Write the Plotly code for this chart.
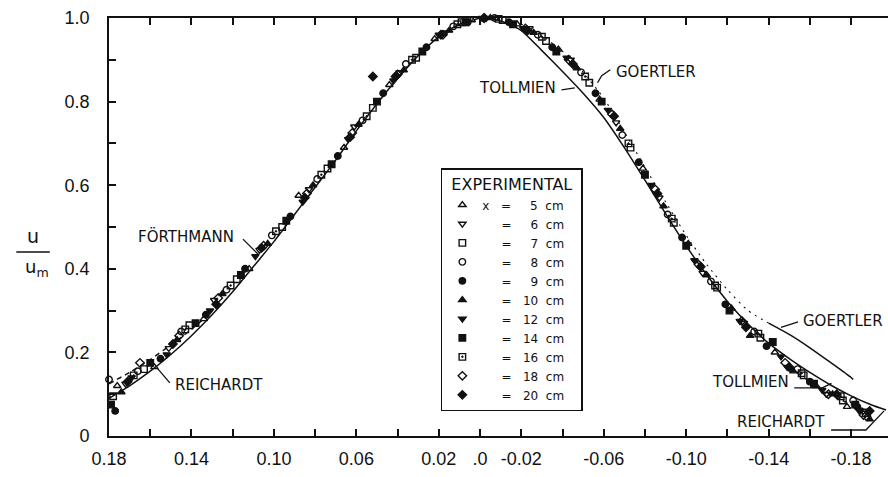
import plotly.graph_objects as go

# ---- measured velocity ratios u/um against y/x, one list pair per station ----
x5 = [0.176, 0.158, 0.134, 0.112, 0.088, 0.066, 0.044, 0.022, 0.004, -0.018, -0.038, -0.058, -0.079, -0.101, -0.122, -0.143, -0.163, -0.178]
u5 = [0.12, 0.165, 0.28, 0.40, 0.575, 0.69, 0.84, 0.95, 0.995, 0.985, 0.925, 0.805, 0.64, 0.46, 0.305, 0.20, 0.12, 0.07]
x6 = [0.172, 0.151, 0.129, 0.107, 0.083, 0.061, 0.039, 0.017, -0.003, -0.024, -0.044, -0.066, -0.087, -0.108, -0.128, -0.149, -0.168, -0.186]
u6 = [0.125, 0.21, 0.325, 0.445, 0.59, 0.74, 0.87, 0.965, 1.0, 0.975, 0.90, 0.75, 0.57, 0.39, 0.27, 0.165, 0.10, 0.06]
x7 = [0.178, 0.163, 0.141, 0.118, 0.096, 0.074, 0.052, 0.031, 0.009, -0.011, -0.032, -0.053, -0.073, -0.094, -0.115, -0.136, -0.157, -0.176]
u7 = [0.095, 0.16, 0.265, 0.375, 0.50, 0.64, 0.785, 0.905, 0.99, 0.995, 0.945, 0.845, 0.69, 0.51, 0.355, 0.235, 0.145, 0.085]
x8 = [0.180, 0.166, 0.145, 0.123, 0.101, 0.079, 0.057, 0.036, 0.013, -0.007, -0.028, -0.049, -0.069, -0.091, -0.112, -0.133, -0.154, -0.181, -0.188]
u8 = [0.135, 0.155, 0.25, 0.35, 0.48, 0.615, 0.755, 0.89, 0.98, 1.0, 0.96, 0.87, 0.72, 0.53, 0.37, 0.25, 0.16, 0.085, 0.045]
x9 = [0.177, 0.155, 0.133, 0.114, 0.092, 0.069, 0.047, 0.026, 0.006, -0.014, -0.035, -0.056, -0.077, -0.098, -0.119, -0.139, -0.160, -0.183]
u9 = [0.06, 0.185, 0.29, 0.40, 0.525, 0.67, 0.82, 0.93, 0.99, 0.99, 0.93, 0.82, 0.655, 0.475, 0.315, 0.215, 0.13, 0.07]
x10 = [0.174, 0.147, 0.125, 0.103, 0.081, 0.059, 0.037, 0.015, -0.005, -0.026, -0.047, -0.068, -0.089, -0.110, -0.131, -0.152, -0.171, -0.189]
u10 = [0.105, 0.23, 0.34, 0.46, 0.60, 0.745, 0.875, 0.97, 1.0, 0.965, 0.88, 0.735, 0.55, 0.385, 0.24, 0.155, 0.10, 0.04]
x12 = [0.169, 0.152, 0.131, 0.109, 0.086, 0.064, 0.042, 0.020, -0.001, -0.021, -0.042, -0.062, -0.083, -0.104, -0.126, -0.146, -0.166, -0.184]
u12 = [0.14, 0.195, 0.30, 0.43, 0.56, 0.71, 0.85, 0.96, 1.0, 0.975, 0.905, 0.78, 0.60, 0.42, 0.275, 0.19, 0.11, 0.06]
x14 = [0.179, 0.160, 0.138, 0.116, 0.094, 0.072, 0.050, 0.028, 0.007, -0.016, -0.037, -0.059, -0.080, -0.100, -0.121, -0.142, -0.162, -0.182]
u14 = [0.075, 0.175, 0.27, 0.385, 0.515, 0.65, 0.80, 0.92, 0.99, 0.985, 0.92, 0.80, 0.625, 0.455, 0.30, 0.225, 0.125, 0.075]
x16 = [0.168, 0.143, 0.121, 0.099, 0.077, 0.055, 0.033, 0.011, -0.009, -0.030, -0.051, -0.072, -0.093, -0.114, -0.135, -0.156, -0.175, -0.187]
u16 = [0.145, 0.255, 0.36, 0.49, 0.625, 0.765, 0.90, 0.985, 0.998, 0.955, 0.86, 0.70, 0.52, 0.36, 0.245, 0.15, 0.095, 0.055]
x18 = [0.165, 0.146, 0.127, 0.105, 0.084, 0.062, 0.040, 0.018, -0.002, -0.022, -0.043, -0.064, -0.085, -0.106, -0.127, -0.148, -0.169, -0.186]
u18 = [0.175, 0.24, 0.33, 0.455, 0.58, 0.725, 0.865, 0.96, 1.0, 0.975, 0.90, 0.77, 0.59, 0.41, 0.275, 0.175, 0.10, 0.05]
x20 = [0.171, 0.149, 0.128, 0.106, 0.085, 0.063, 0.052, 0.041, 0.019, -0.002, -0.023, -0.045, -0.065, -0.086, -0.107, -0.129, -0.150, -0.173, -0.189]
u20 = [0.13, 0.22, 0.315, 0.45, 0.57, 0.715, 0.86, 0.86, 0.96, 1.0, 0.97, 0.89, 0.765, 0.58, 0.405, 0.26, 0.165, 0.10, 0.06]

stations = ["5", "6", "7", "8", "9", "10", "12", "14", "16", "18", "20"]
series_x = [x5, x6, x7, x8, x9, x10, x12, x14, x16, x18, x20]
series_u = [u5, u6, u7, u8, u9, u10, u12, u14, u16, u18, u20]
symbols = ["triangle-up-open", "triangle-down-open", "square-open", "circle-open", "circle",
           "triangle-up", "triangle-down", "square", "square-open-dot", "diamond-open", "diamond"]

# ---- theoretical profiles ----
forthmann_x = [0.18, 0.17, 0.16, 0.15, 0.14, 0.13, 0.12, 0.11, 0.10, 0.09, 0.08, 0.07, 0.06, 0.05, 0.04, 0.03, 0.02, 0.01, 0.0]
forthmann_u = [0.09, 0.12, 0.155, 0.195, 0.24, 0.29, 0.345, 0.405, 0.465, 0.53, 0.595, 0.66, 0.73, 0.795, 0.855, 0.91, 0.955, 0.985, 1.0]
reichardt_l_x = [0.18, 0.17, 0.16, 0.15, 0.14, 0.13]
reichardt_l_u = [0.125, 0.152, 0.183, 0.218, 0.255, 0.298]
tollmien_x = [0.0, -0.01, -0.02, -0.03, -0.04, -0.05, -0.06, -0.07, -0.08, -0.09, -0.10, -0.11, -0.12, -0.13, -0.14, -0.15, -0.16, -0.17, -0.18, -0.19, -0.197]
tollmien_u = [1.0, 0.993, 0.97, 0.922, 0.872, 0.82, 0.762, 0.69, 0.612, 0.532, 0.455, 0.385, 0.322, 0.268, 0.222, 0.185, 0.152, 0.122, 0.096, 0.074, 0.062]
goertler_top_x = [0.0, -0.01, -0.02, -0.03, -0.04, -0.05, -0.06, -0.07, -0.08, -0.09, -0.10, -0.11, -0.12, -0.13, -0.14]
goertler_top_u = [1.0, 0.998, 0.985, 0.958, 0.92, 0.87, 0.808, 0.728, 0.643, 0.56, 0.48, 0.41, 0.35, 0.30, 0.27]
goertler_tail_x = [-0.14, -0.15, -0.16, -0.17, -0.18, -0.181]
goertler_tail_u = [0.27, 0.243, 0.211, 0.176, 0.14, 0.135]
reichardt_r_x = [-0.15, -0.16, -0.17, -0.18, -0.186]
reichardt_r_u = [0.165, 0.13, 0.10, 0.075, 0.065]

x_tick_vals = [0.18, 0.14, 0.10, 0.06, 0.02, 0.0, -0.02, -0.06, -0.10, -0.14, -0.18]
x_tick_text = ["0.18", "0.14", "0.10", "0.06", "0.02", ".0", "-0.02", "-0.06", "-0.10", "-0.14", "-0.18"]
x_minor_vals = [0.16, 0.12, 0.08, 0.04, -0.04, -0.08, -0.12, -0.16]
y_tick_vals = [0.0, 0.2, 0.4, 0.6, 0.8, 1.0]
y_tick_text = ["0", "0.2", "0.4", "0.6", "0.8", "1.0"]
y_minor_vals = [0.1, 0.3, 0.5, 0.7, 0.9]

INK = "#111111"
TICK_FONT = "Liberation Sans, sans-serif"
LABEL_FONT = "DejaVu Sans, sans-serif"

fig = go.Figure()

def curve(xs, us, dash="solid", width=1.5):
    fig.add_trace(go.Scatter(x=xs, y=us, mode="lines", showlegend=False, hoverinfo="skip",
                             line=dict(color=INK, width=width, dash=dash, shape="spline", smoothing=0.6)))

curve(forthmann_x, forthmann_u)
curve(reichardt_l_x, reichardt_l_u, dash="5px,4px")
curve(tollmien_x, tollmien_u)
curve(goertler_top_x, goertler_top_u, dash="2px,5px", width=1.1)
curve(goertler_tail_x, goertler_tail_u)
curve(reichardt_r_x, reichardt_r_u, dash="5px,4px")

NB = "\u00a0"
FS = "\u2007"
for i, (st, xs, us, sym) in enumerate(zip(stations, series_x, series_u, symbols)):
    lead = "x" if i == 0 else FS
    pad = FS if len(st) == 1 else ""
    name = f"{lead}{NB}{NB}{NB}={NB}{NB}{NB}{pad}{st}{NB}{NB}cm{NB}{NB}{NB}"
    fig.add_trace(go.Scatter(x=xs, y=us, mode="markers", name=name, cliponaxis=False,
                             marker=dict(symbol=sym, size=6.5, color=INK,
                                         line=dict(color=INK, width=1.4))))

def label(text, x, y, size=15):
    fig.add_annotation(x=x, y=y, xref="x", yref="y", text=text, showarrow=False,
                       font=dict(family=LABEL_FONT, size=size, color=INK))

def leader(points):
    path = "M " + " L ".join(f"{px},{py}" for px, py in points)
    fig.add_shape(type="path", path=path, xref="x", yref="y", line=dict(color=INK, width=1.3))

label("FÖRTHMANN", 0.1427, 0.478)
leader([(0.115, 0.471), (0.1073, 0.433)])
label("REICHARDT", 0.1267, 0.122)
leader([(0.1505, 0.127), (0.1567, 0.163)])
label("TOLLMIEN", -0.0182, 0.8325)
leader([(-0.0395, 0.828), (-0.046, 0.833)])
label("GOERTLER", -0.0855, 0.871)
leader([(-0.0632, 0.876), (-0.059, 0.862), (-0.057, 0.845)])
label("GOERTLER", -0.176, 0.275)
leader([(-0.1543, 0.273), (-0.146, 0.26)])
label("TOLLMIEN", -0.131, 0.129)
leader([(-0.1524, 0.115), (-0.166, 0.115), (-0.1705, 0.126)])
label("REICHARDT", -0.146, 0.0335)
leader([(-0.1703, 0.0144), (-0.1872, 0.0144), (-0.196, 0.06)])

# separator under the legend heading
fig.add_shape(type="line", xref="x", yref="y", x0=0.0187, x1=-0.0465, y0=0.5813, y1=0.5813,
              line=dict(color=INK, width=1.3))

# ordinate label u / u_m
fig.add_annotation(x=-0.1075, y=0.478, xref="paper", yref="paper", xanchor="left", text="u",
                   showarrow=False, font=dict(family=LABEL_FONT, size=19, color=INK))
fig.add_annotation(x=-0.111, y=0.402, xref="paper", yref="paper", xanchor="left", text="u<sub>m</sub>",
                   showarrow=False, font=dict(family=LABEL_FONT, size=18, color=INK))
fig.add_shape(type="line", xref="paper", yref="paper", x0=-0.119, x1=-0.076, y0=0.44, y1=0.44,
              line=dict(color=INK, width=1.5))

axis_common = dict(showgrid=False, zeroline=False, showline=True, linecolor=INK, linewidth=1.7,
                   ticks="inside", ticklen=7, tickwidth=1.6, tickcolor=INK, tickmode="array",
                   tickfont=dict(family=TICK_FONT, size=18, color=INK))

fig.update_xaxes(range=[0.18, -0.1979], tickvals=x_tick_vals, ticktext=x_tick_text,
                 minor=dict(tickmode="array", tickvals=x_minor_vals, ticks="inside",
                            ticklen=7, tickwidth=1.6, tickcolor=INK),
                 mirror="ticks", ticklabelstandoff=6, **axis_common)
fig.update_yaxes(range=[0, 1.0], tickvals=y_tick_vals, ticktext=y_tick_text,
                 minor=dict(tickmode="array", tickvals=y_minor_vals, ticks="inside",
                            ticklen=7, tickwidth=1.6, tickcolor=INK),
                 ticklabelstandoff=14, **axis_common)

fig.update_layout(
    width=888, height=477,
    margin=dict(l=109, r=0, t=18, b=41),
    paper_bgcolor="white", plot_bgcolor="white",
    legend=dict(x=0.426, y=0.641, xanchor="left", yanchor="top",
                bgcolor="white", bordercolor=INK, borderwidth=1.5,
                font=dict(family=LABEL_FONT, size=12, color=INK),
                title=dict(text="EXPERIMENTAL", side="top center",
                           font=dict(family=LABEL_FONT, size=16, color=INK)),
                tracegroupgap=0),
)

fig.write_html("out.html")
